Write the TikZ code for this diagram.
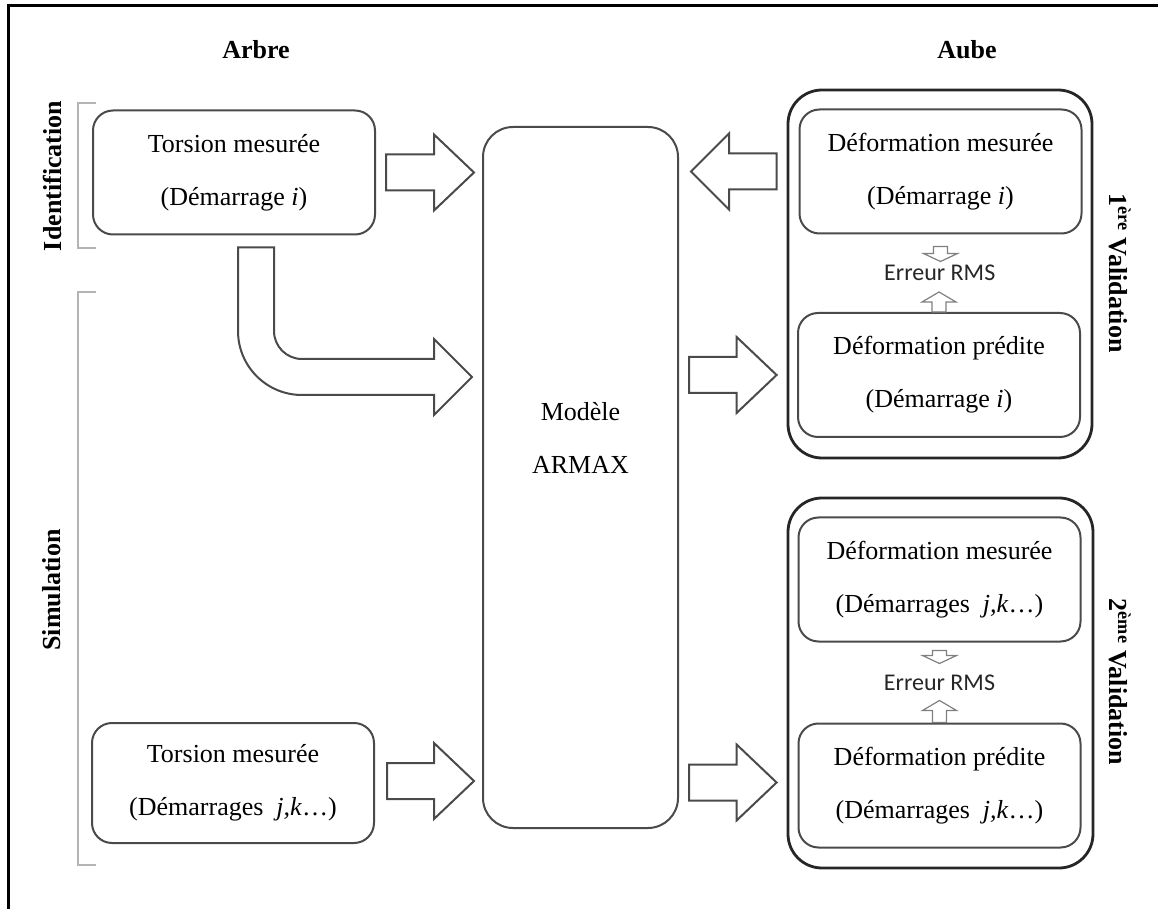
\documentclass[tikz,border=0pt]{standalone}
\usepackage{fontspec}
\setmainfont{Liberation Serif}
\newfontfamily\rmsfont{Carlito}
\usetikzlibrary{calc, positioning}
\usepackage{xcolor}

\definecolor{boxgray}{HTML}{4A4A4A}
\definecolor{brackgray}{HTML}{B4B4B4}

% block arrow from #2 (tail) to #3 (tip): shaft half width, head half width, head length
\newcommand{\fatarrow}[6][fatline]{%
  \coordinate (fa-b) at ($(#3)!#6!(#2)$);
  \draw[#1] ($(#2)!#4!90:(#3)$) -- ($(fa-b)!#4!90:(#3)$) -- ($(fa-b)!#5!90:(#3)$) -- (#3)
    -- ($(fa-b)!#5!-90:(#3)$) -- ($(fa-b)!#4!-90:(#3)$) -- ($(#2)!#4!-90:(#3)$) -- cycle;}

\begin{document}
\begin{tikzpicture}[
  x=0.5pt, y=-0.5pt,
  box/.style={draw=boxgray, line width=1pt, rounded corners=10pt, minimum width=141pt, minimum height=62pt, align=center, inner sep=0pt, font=\fontsize{13}{26.5}\selectfont},
  valbox/.style={draw=black!85, line width=1.4pt, rounded corners=17pt, minimum width=152pt, minimum height=184pt},
  hdr/.style={font=\fontsize{13}{15}\selectfont\bfseries},
  side/.style={hdr, rotate=90},
  rms/.style={font=\rmsfont\fontsize{12}{14}\selectfont, text=black!85},
  fatline/.style={draw=boxgray, line width=1pt, line join=miter},
  smallarrow/.style={draw=black!50, line width=0.6pt, line join=miter},
  bracket/.style={draw=brackgray, line width=1pt}
]
\useasboundingbox (0,0) rectangle (1158,909);

% frame
\draw[line width=1.5pt] (8,909) -- (8,6) -- (1158,6);

\node[hdr] (arbre) at (256,50) {Arbre};
\node[hdr] (aube) at (967,50) {Aube};

\node[side] (idlbl) at (52,176) {Identification};
\node[side] (simlbl) at (52,590) {Simulation};
\draw[bracket] (96,103) -- (78,103) -- (78,248) -- (96,248);
\draw[bracket] (96,292) -- (78,292) -- (78,865) -- (96,865);

\node[box] (torsA) at (234,172.5) {Torsion mesurée\\(Démarrage \textit{i})};
\node[box, minimum height=60pt] (torsB) at (233,783) {Torsion mesurée\\(Démarrages~~\textit{j,k}\ldots)};

\node[box, rounded corners=15pt, minimum width=97.5pt, minimum height=350.5pt] (armax) at (580.5,477.5) {};
\node[font=\fontsize{13}{26.5}\selectfont, align=center] (armaxtxt) at ($(armax.center)+(0,-40)$) {Modèle\\ARMAX};

\node[valbox] (val1) at (940,274) {};
\node[valbox, minimum width=152.5pt, minimum height=185pt] (val2) at (940.5,683) {};

\node[box] (mes1) at (940.5,171.5) {Déformation mesurée\\(Démarrage \textit{i})};
\node[box] (pred1) at (939,375) {Déformation prédite\\(Démarrage \textit{i})};
\node[box] (mes2) at (939.5,579.5) {Déformation mesurée\\(Démarrages~~\textit{j,k}\ldots)};
\node[box] (pred2) at (939.5,785.5) {Déformation prédite\\(Démarrages~~\textit{j,k}\ldots)};

\node[rms] (err1) at ($(mes1.south)!0.5!(pred1.north)$) {Erreur RMS};
\node[rms] (err2) at ($(mes2.south)!0.5!(pred2.north)$) {Erreur RMS};

\node[hdr, rotate=-90] (v1lbl) at (1120,273) {1\textsuperscript{ère} Validation};
\node[hdr, rotate=-90] (v2lbl) at (1120,682) {2\textsuperscript{ème} Validation};

% block arrows
\coordinate (a1s) at ($(torsA.east)+(10,0)$);
\coordinate (a1e) at ($(armax.west|-torsA.east)+(-8,0)$);
\coordinate (a2s) at ($(val1.west|-mes1.west)+(-10,0)$);
\coordinate (a2e) at ($(armax.east|-mes1.west)+(12,0)$);
\coordinate (a3s) at ($(armax.east|-pred1.west)+(10,0)$);
\coordinate (a3e) at ($(val1.west|-pred1.west)+(-10,0)$);
\coordinate (a4s) at ($(torsB.east)+(12,-2)$);
\coordinate (a4e) at ($(armax.west|-torsB.east)+(-8,-2)$);
\coordinate (a5s) at ($(armax.east|-pred2.west)+(10,-3)$);
\coordinate (a5e) at ($(val2.west|-pred2.west)+(-10,-3)$);

\fatarrow{a1s}{a1e}{9pt}{19pt}{20pt}
\fatarrow{a2s}{a2e}{9pt}{19pt}{19pt}
\fatarrow{a3s}{a3e}{9pt}{19pt}{20pt}
\fatarrow{a4s}{a4e}{9pt}{19pt}{20pt}
\fatarrow{a5s}{a5e}{9pt}{19pt}{20pt}

% bent arrow
\coordinate (b0) at ($(torsA.south)+(22,12)$);
\coordinate (b1) at ($(armax.west|-pred1.west)+(-10,2)$);
\draw[fatline] let \p1=(b0), \p2=(b1) in
  (\x1-9pt,\y1) -- (\x1-9pt,\y2+23pt) arc[start angle=180, end angle=270, radius=32pt]
  -- (\x2-19pt,\y2-9pt) -- (\x2-19pt,\y2-19pt) -- (b1) -- (\x2-19pt,\y2+19pt) -- (\x2-19pt,\y2+9pt)
  -- (\x1+23pt,\y2+9pt) arc[start angle=270, end angle=180, radius=14pt] -- (\x1+9pt,\y1) -- cycle;

% small arrows to the RMS error
\coordinate (s1s) at ($(mes1.south)+(0,12)$);
\coordinate (s1e) at ($(mes1.south)+(0,27)$);
\coordinate (s2s) at (pred1.north);
\coordinate (s2e) at ($(pred1.north)+(0,-20)$);
\coordinate (s3s) at ($(mes2.south)+(0,8)$);
\coordinate (s3e) at ($(mes2.south)+(0,21)$);
\coordinate (s4s) at (pred2.north);
\coordinate (s4e) at ($(pred2.north)+(0,-22)$);

\fatarrow[smallarrow]{s1s}{s1e}{3.5pt}{8.5pt}{4pt}
\fatarrow[smallarrow]{s2s}{s2e}{3.5pt}{8.5pt}{5pt}
\fatarrow[smallarrow]{s3s}{s3e}{3.5pt}{8.5pt}{4pt}
\fatarrow[smallarrow]{s4s}{s4e}{3.5pt}{8.5pt}{5pt}

\end{tikzpicture}
\end{document}
